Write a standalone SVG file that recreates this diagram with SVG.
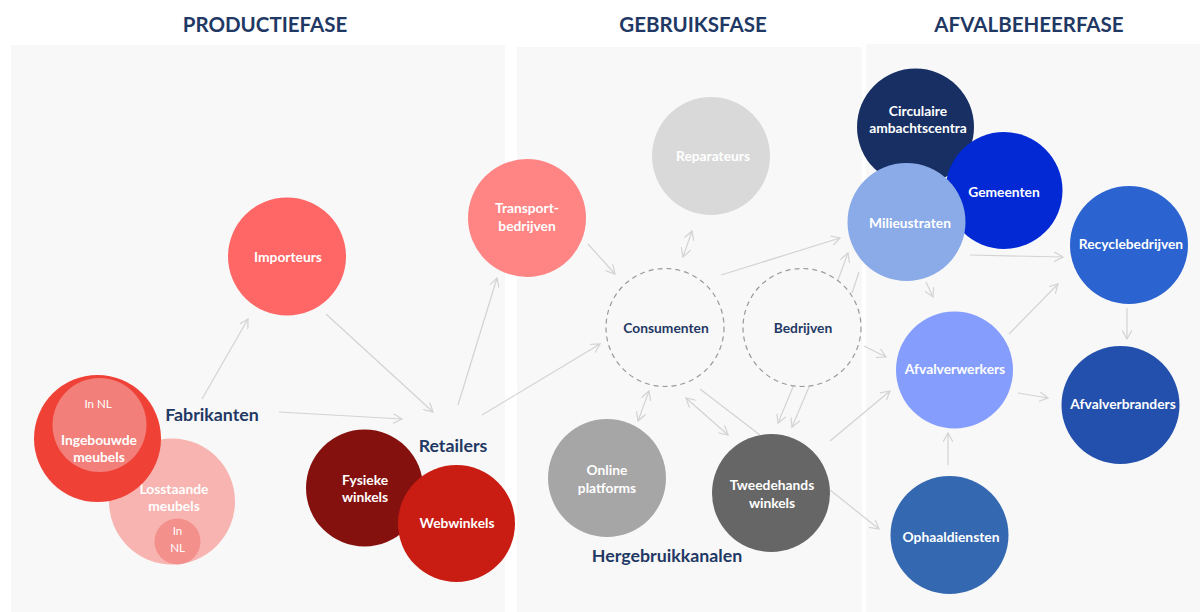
<svg xmlns="http://www.w3.org/2000/svg" width="1200" height="612" viewBox="0 0 1200 612">
<defs>
<style>
.panel{fill:#f8f8f8}
.head{font-family:Lato,"Liberation Sans",sans-serif;font-weight:700;font-size:20.5px;fill:#1f3864;text-anchor:middle}
.lbl{font-family:Lato,"Liberation Sans",sans-serif;font-weight:700;font-size:17.8px;fill:#1f3864;text-anchor:middle}
.t{font-family:Lato,"Liberation Sans",sans-serif;font-weight:700;font-size:13.8px;fill:#ffffff;text-anchor:middle}
.tn{font-family:Lato,"Liberation Sans",sans-serif;font-weight:700;font-size:13.8px;fill:#1f3864;text-anchor:middle}
.ts{font-family:Lato,"Liberation Sans",sans-serif;font-weight:400;font-size:11.5px;fill:#ffffff;text-anchor:middle}
.c{stroke:#d3d3d3;stroke-width:1.2;fill:none}
.a{marker-end:url(#ah)}
.b{marker-end:url(#ah);marker-start:url(#ah)}
.dash{fill:none;stroke:#999999;stroke-width:1.2;stroke-dasharray:5 4}
</style>
<marker id="ah" viewBox="0 0 10 10" refX="9" refY="5" markerWidth="10" markerHeight="10" markerUnits="userSpaceOnUse" orient="auto-start-reverse">
<path d="M0,0 L9,5 L0,10" fill="none" stroke="#d3d3d3" stroke-width="1.2"/>
</marker>
</defs>
<rect width="1200" height="612" fill="#ffffff"/>
<rect class="panel" x="11" y="45" width="494" height="567"/>
<rect class="panel" x="517" y="47" width="345" height="565"/>
<rect class="panel" x="866" y="44" width="334" height="568"/>
<text class="head" x="265" y="32">PRODUCTIEFASE</text>
<text class="head" x="693" y="32">GEBRUIKSFASE</text>
<text class="head" x="1029" y="32">AFVALBEHEERFASE</text>

<g id="connectors">
<line class="c a" x1="202" y1="399" x2="248" y2="319"/>
<line class="c a" x1="279" y1="412" x2="402" y2="419"/>
<line class="c a" x1="326" y1="314" x2="433" y2="412"/>
<line class="c a" x1="458" y1="405" x2="497" y2="278"/>
<line class="c a" x1="482" y1="415" x2="600" y2="344"/>
<line class="c a" x1="588" y1="244" x2="615" y2="274"/>
<line class="c b" x1="692" y1="231" x2="683" y2="257"/>
<line class="c a" x1="721" y1="275" x2="840" y2="238"/>
<line class="c a" x1="838" y1="280" x2="848" y2="253"/>
<line class="c" x1="852" y1="293" x2="859" y2="272"/>
<line class="c a" x1="970" y1="255" x2="1063" y2="257"/>
<line class="c a" x1="926" y1="282" x2="933" y2="297"/>
<line class="c a" x1="1009" y1="334" x2="1058" y2="284"/>
<line class="c a" x1="1127" y1="308" x2="1127" y2="339"/>
<line class="c a" x1="1018" y1="393" x2="1048" y2="398"/>
<line class="c a" x1="948" y1="465" x2="948" y2="433"/>
<line class="c a" x1="864" y1="346" x2="886" y2="357"/>
<line class="c a" x1="830" y1="441" x2="890" y2="391"/>
<line class="c a" x1="830" y1="490" x2="879" y2="529"/>
<line class="c a" x1="793" y1="387" x2="778" y2="423"/>
<line class="c a" x1="809" y1="387" x2="792" y2="427"/>
<line class="c b" x1="686" y1="398" x2="728" y2="435"/>
<line class="c" x1="700" y1="389" x2="760" y2="435"/>
<line class="c b" x1="649" y1="391" x2="638" y2="421"/>
</g>

<g id="losstaande">
<circle cx="172" cy="501.5" r="63" fill="#f8b4b0"/>
<circle cx="177.5" cy="541.5" r="23" fill="#f3908b"/>
<text class="t" x="174" y="494">Losstaande</text>
<text class="t" x="174" y="511">meubels</text>
<text class="ts" x="177.5" y="535">In</text>
<text class="ts" x="177.5" y="552">NL</text>
</g>
<g id="ingebouwde">
<circle cx="97.5" cy="438.5" r="63.5" fill="#ef4136"/>
<circle cx="99.5" cy="425" r="47" fill="#f27f7a"/>
<text class="ts" x="98" y="408">In NL</text>
<text class="t" x="99" y="445">Ingebouwde</text>
<text class="t" x="99" y="462">meubels</text>
</g>
<text class="lbl" x="212" y="421">Fabrikanten</text>

<g id="importeurs">
<circle cx="287" cy="256.5" r="59" fill="#ff6666"/>
<text class="t" x="288" y="262">Importeurs</text>
</g>
<g id="transport">
<circle cx="527" cy="218" r="59" fill="#ff8585"/>
<text class="t" x="527" y="213">Transport-</text>
<text class="t" x="527" y="231">bedrijven</text>
</g>
<g id="fysieke">
<circle cx="364.5" cy="488" r="58.5" fill="#85110f"/>
<text class="t" x="365" y="485">Fysieke</text>
<text class="t" x="365" y="502">winkels</text>
</g>
<g id="webwinkels">
<circle cx="456.5" cy="523.5" r="58.5" fill="#c91c13"/>
<text class="t" x="457" y="528">Webwinkels</text>
</g>
<text class="lbl" x="453" y="452">Retailers</text>

<g id="reparateurs">
<circle cx="711" cy="156" r="59" fill="#d9d9d9"/>
<text class="t" x="713" y="161">Reparateurs</text>
</g>
<g id="consumenten">
<circle class="dash" cx="665" cy="327.5" r="59"/>
<text class="tn" x="666" y="333">Consumenten</text>
</g>
<g id="bedrijven">
<circle class="dash" cx="802" cy="327.5" r="59"/>
<text class="tn" x="803" y="333">Bedrijven</text>
</g>
<g id="online">
<circle cx="607" cy="478" r="59" fill="#a6a6a6"/>
<text class="t" x="607" y="475">Online</text>
<text class="t" x="607" y="493">platforms</text>
</g>
<g id="tweedehands">
<circle cx="771" cy="493" r="59" fill="#666666"/>
<text class="t" x="772" y="490">Tweedehands</text>
<text class="t" x="772" y="508">winkels</text>
</g>
<text class="lbl" x="667" y="562">Hergebruikkanalen</text>

<g id="circulaire">
<circle cx="915.5" cy="127" r="58.5" fill="#172f63"/>
<text class="t" x="918" y="116">Circulaire</text>
<text class="t" x="918" y="133">ambachtscentra</text>
</g>
<g id="gemeenten">
<circle cx="1004" cy="190.5" r="58.5" fill="#0229d4"/>
<text class="t" x="1004" y="197">Gemeenten</text>
</g>
<g id="milieustraten">
<circle cx="906.5" cy="222" r="59" fill="#8aaae8"/>
<text class="t" x="910" y="228">Milieustraten</text>
</g>
<g id="recyclebedrijven">
<circle cx="1129" cy="245" r="59" fill="#2b63d0"/>
<text class="t" x="1131" y="249">Recyclebedrijven</text>
</g>
<g id="afvalverwerkers">
<circle cx="954.5" cy="370" r="58.5" fill="#859efd"/>
<text class="t" x="955" y="374">Afvalverwerkers</text>
</g>
<g id="afvalverbranders">
<circle cx="1120.5" cy="405" r="59" fill="#2350ad"/>
<text class="t" x="1123" y="409">Afvalverbranders</text>
</g>
<g id="ophaaldiensten">
<circle cx="949.5" cy="535" r="59" fill="#3469b1"/>
<text class="t" x="951" y="542">Ophaaldiensten</text>
</g>
</svg>
